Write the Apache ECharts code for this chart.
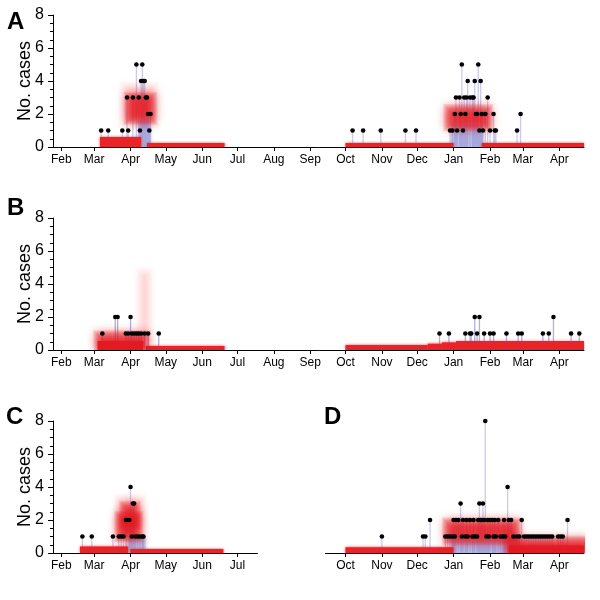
<!DOCTYPE html>
<html><head><meta charset="utf-8">
<script src="https://cdn.jsdelivr.net/npm/echarts@6/dist/echarts.min.js"></script>
<style>html,body{margin:0;padding:0;background:#fff}#c{width:600px;height:600px}</style>
</head><body><div id="c"></div>
<script>
// ---------- axis ranges and tick labels ----------
const monthNames = ['Jan','Feb','Mar','Apr','May','Jun','Jul','Aug','Sep','Oct','Nov','Dec'];
const rangeAB = ['2009-01-25','2010-04-22'];
const rangeC  = ['2009-01-25','2009-07-18'];
const rangeD  = ['2009-09-14','2010-04-22'];
const yMax = 8, yStep = 2;

// ---------- daily case counts ----------
const casesA = [
 ['2009-03-07',1],['2009-03-13',1],['2009-03-25',1],['2009-03-29',3],['2009-03-30',1],['2009-04-03',3],['2009-04-06',5],['2009-04-08',3],['2009-04-09',1],['2009-04-10',4],['2009-04-11',5],['2009-04-12',4],['2009-04-13',4],['2009-04-14',3],['2009-04-15',3],['2009-04-16',2],['2009-04-17',1],['2009-04-18',2],
 ['2009-10-07',1],['2009-10-16',1],['2009-10-31',1],['2009-11-21',1],['2009-11-30',1],
 ['2009-12-29',1],['2009-12-31',1],['2010-01-02',2],['2010-01-03',3],['2010-01-04',1],['2010-01-06',3],['2010-01-07',2],['2010-01-08',5],['2010-01-09',1],['2010-01-10',3],['2010-01-11',2],['2010-01-12',3],['2010-01-13',4],['2010-01-15',3],['2010-01-17',3],['2010-01-18',3],['2010-01-19',4],['2010-01-20',2],['2010-01-21',2],['2010-01-22',5],['2010-01-23',1],['2010-01-24',4],['2010-01-25',2],['2010-01-26',1],['2010-01-28',2],['2010-01-30',3],['2010-02-01',1],['2010-02-04',2],['2010-02-05',1],['2010-02-06',1],['2010-02-24',1],['2010-02-27',2]
];
const casesB = [
 ['2009-03-08',1],['2009-03-19',2],['2009-03-21',2],['2009-03-28',1],['2009-03-30',1],['2009-04-01',2],['2009-04-02',1],['2009-04-04',1],['2009-04-06',1],['2009-04-08',1],['2009-04-10',1],['2009-04-13',1],['2009-04-16',1],['2009-04-25',1],
 ['2009-12-20',1],['2009-12-28',1],['2010-01-11',1],['2010-01-15',1],['2010-01-16',1],['2010-01-19',2],['2010-01-21',1],['2010-01-23',2],['2010-01-27',1],['2010-02-01',1],['2010-02-04',1],['2010-02-15',1],['2010-02-25',1],['2010-02-28',1],['2010-03-18',1],['2010-03-23',1],['2010-03-27',2],['2010-04-11',1],['2010-04-18',1]
];
const casesC = [
 ['2009-02-19',1],['2009-02-27',1],['2009-03-17',1],['2009-03-22',1],['2009-03-24',1],['2009-03-26',1],['2009-03-28',2],['2009-03-29',2],['2009-03-31',2],['2009-04-01',4],['2009-04-02',1],['2009-04-03',3],['2009-04-04',3],['2009-04-05',1],['2009-04-07',1],['2009-04-09',1],['2009-04-11',1],['2009-04-12',1]
];
const casesD = [
 ['2009-11-01',1],['2009-12-06',1],['2009-12-08',1],['2009-12-12',2],
 ['2009-12-25',1],['2009-12-27',1],['2009-12-29',1],['2009-12-31',1],['2010-01-01',2],['2010-01-02',1],['2010-01-03',2],['2010-01-05',2],['2010-01-07',3],['2010-01-08',1],['2010-01-09',2],['2010-01-11',1],['2010-01-12',2],['2010-01-13',1],['2010-01-15',2],['2010-01-17',1],['2010-01-18',2],['2010-01-19',1],['2010-01-21',1],['2010-01-22',2],['2010-01-23',3],['2010-01-24',2],['2010-01-25',2],['2010-01-26',3],['2010-01-27',2],['2010-01-28',8],['2010-01-29',1],['2010-01-30',2],['2010-01-31',1],['2010-02-01',2],['2010-02-03',2],['2010-02-04',1],['2010-02-05',2],['2010-02-06',1],['2010-02-08',2],['2010-02-10',1],['2010-02-12',1],['2010-02-13',2],['2010-02-14',1],['2010-02-16',4],['2010-02-17',2],['2010-02-19',2],['2010-02-21',1],['2010-02-24',1],['2010-02-26',1],['2010-02-28',2],['2010-03-02',1],['2010-03-04',1],['2010-03-06',1],['2010-03-08',1],['2010-03-10',1],['2010-03-12',1],['2010-03-14',1],['2010-03-16',1],['2010-03-18',1],['2010-03-20',1],['2010-03-22',1],['2010-03-24',1],['2010-03-26',1],['2010-03-31',1],['2010-04-02',1],['2010-04-04',1],['2010-04-08',2]
];

// ---------- model estimates: [start, end, low, high] ----------
const bandsA  = [['2009-03-06','2009-04-10',0,0.6],['2009-04-15','2009-06-20',0,0.25],['2009-10-01','2010-01-01',0,0.25],['2010-01-25','2010-04-22',0,0.25]];
const blobsA  = [['2009-04-03','2009-04-16',1.9,2.8],['2009-12-31','2010-01-27',1.5,2.05]];
const shadesA = [['2009-04-08','2009-04-18',0,1.6],['2009-12-30','2010-01-26',0,1.4]];
const hazeA   = [['2009-03-29','2009-04-19',1.6,3.5]];

const bandsB  = [['2009-03-04','2009-04-12',0,0.55],['2009-04-14','2009-06-20',0,0.25],['2009-10-01','2009-12-10',0,0.3],['2009-12-10','2009-12-22',0,0.38],['2009-12-22','2010-01-03',0,0.46],['2010-01-03','2010-04-22',0,0.55]];
const blobsB  = [['2009-03-08','2009-04-10',0.4,0.65]];
const shadesB = [];
const hazeB   = [['2009-04-12','2009-04-14',0.9,4.5]];

const bandsC  = [['2009-02-17','2009-03-30',0,0.4],['2009-04-01','2009-06-19',0,0.25]];
const blobsC  = [['2009-03-26','2009-04-04',1.2,2.0],['2009-03-30','2009-04-02',2.0,2.6]];
const shadesC = [['2009-03-30','2009-04-14',0,1.0]];
const hazeC   = [['2009-03-24','2009-04-08',1.0,3.1]];

const bandsD  = [['2009-10-01','2010-01-01',0,0.35],['2010-02-17','2010-04-22',0,0.45]];
const blobsD  = [['2009-12-30','2010-02-20',1.0,1.6],['2010-02-20','2010-04-22',0.3,0.5]];
const shadesD = [['2009-12-30','2010-02-24',0,0.9]];
const hazeD   = [];

// ---------- build ----------
function dayList(a, b){
  const p = s => Date.UTC(+s.slice(0,4), +s.slice(5,7)-1, +s.slice(8,10));
  const out = []; let t = p(a); const e = p(b);
  while (t <= e) { out.push(new Date(t).toISOString().slice(0,10)); t += 86400000; }
  return out;
}
const PX_PER_DAY = 1.1748;
const FONT = 'Arial, "Liberation Sans", Helvetica, sans-serif';
const panels = [
  {letter:'A', range:rangeAB, left:53, top:15, cases:casesA, bands:bandsA, blobs:blobsA, shades:shadesA, haze:hazeA, showY:true, letterPos:[7,10]},
  {letter:'B', range:rangeAB, left:53, top:218, cases:casesB, bands:bandsB, blobs:blobsB, shades:shadesB, haze:hazeB, showY:true, letterPos:[7,196]},
  {letter:'C', range:rangeC,  left:53, top:421, cases:casesC, bands:bandsC, blobs:blobsC, shades:shadesC, haze:hazeC, showY:true, letterPos:[6,405]},
  {letter:'D', range:rangeD,  left:325.5, top:421, cases:casesD, bands:bandsD, blobs:blobsD, shades:shadesD, haze:hazeD, showY:false, letterPos:[324,405]}
];
const grids=[], xAxes=[], yAxes=[], series=[], titles=[];
const isMonthStart = (i, v) => v.slice(8,10) === '01';

function rectShape(api){
  const p1 = api.coord([api.value(0), api.value(3)]);
  const p2 = api.coord([api.value(1), api.value(2)]);
  return {x:p1[0], y:p1[1], width:p2[0]-p1[0], height:p2[1]-p1[1]};
}
function rectSeries(gi, rows, idx, style){
  return {
    type:'custom', xAxisIndex:gi, yAxisIndex:gi, silent:true, clip:true,
    data: rows.map(r => [idx[r[0]], idx[r[1]], r[2], r[3]]),
    encode:{x:[0,1], y:[2,3]},
    renderItem:(params, api) => ({type:'rect', shape:rectShape(api), style:style})
  };
}
// fuzzy block: many thin translucent layers growing outward from the core
function blobSeries(gi, rows, idx, rgb, layers, step, alpha, blur){
  return {
    type:'custom', xAxisIndex:gi, yAxisIndex:gi, silent:true, clip:true,
    data: rows.map(r => [idx[r[0]], idx[r[1]], r[2], r[3]]),
    encode:{x:[0,1], y:[2,3]},
    renderItem:(params, api) => {
      const s = rectShape(api), children = [];
      for (let k = layers-1; k >= 0; k--) {
        const g = k*step;
        children.push({type:'rect', shape:{x:s.x-g, y:s.y-g, width:s.width+2*g, height:s.height+2*g},
          style:{fill:'rgba('+rgb+','+alpha+')', shadowBlur:blur, shadowColor:'rgba('+rgb+',1)'}});
      }
      return {type:'group', children:children};
    }
  };
}

panels.forEach((p, gi) => {
  const cats = dayList(p.range[0], p.range[1]);
  const idx = {}; cats.forEach((d,i) => idx[d] = i);
  grids.push({left:p.left, top:p.top, width:(cats.length-1)*PX_PER_DAY, height:132, containLabel:false, outerBoundsMode:'none'});
  xAxes.push({
    type:'category', gridIndex:gi, data:cats, boundaryGap:false,
    axisLine:{show:true, onZero:false, lineStyle:{color:'#000', width:1}},
    axisTick:{show:true, interval:isMonthStart, length:4, lineStyle:{color:'#000', width:1}},
    axisLabel:{show:true, interval:isMonthStart, formatter:v => monthNames[+v.slice(5,7)-1], fontSize:12, color:'#000', margin:7, fontFamily:FONT},
    splitLine:{show:false}
  });
  yAxes.push({
    type:'value', gridIndex:gi, min:0, max:yMax, interval:yStep, show:p.showY,
    axisLine:{show:true, lineStyle:{color:'#000', width:1}},
    axisTick:{show:true, length:5, lineStyle:{color:'#000', width:1}},
    minorTick:{show:true, splitNumber:4, length:3, lineStyle:{color:'#000', width:1}},
    splitLine:{show:false}, minorSplitLine:{show:false},
    axisLabel:{fontSize:16, color:'#000', margin:9, fontFamily:FONT},
    name:'No. cases', nameLocation:'middle', nameGap:19, nameMoveOverlap:false,
    nameTextStyle:{fontSize:18, color:'#000', fontFamily:FONT}
  });
  titles.push({text:p.letter, left:p.letterPos[0], top:p.letterPos[1], padding:0,
    textStyle:{fontSize:24, fontWeight:'bold', color:'#000', fontFamily:FONT}});

  // lavender posterior shading
  series.push(rectSeries(gi, p.shades, idx, {fill:'rgba(185,185,228,0.75)', shadowBlur:4, shadowColor:'rgba(185,185,228,0.8)'}));
  // faint haze
  series.push(blobSeries(gi, p.haze, idx, '240,90,90', 6, 1.5, 0.025, 10));
  // stems
  series.push({
    type:'custom', xAxisIndex:gi, yAxisIndex:gi, silent:true,
    data:p.cases.map(c => [idx[c[0]], c[1]]), encode:{x:0, y:1},
    renderItem:(params, api) => {
      const a = api.coord([api.value(0), 0]), b = api.coord([api.value(0), api.value(1)]);
      return {type:'line', shape:{x1:a[0], y1:a[1], x2:b[0], y2:b[1]}, style:{stroke:gi===1?'rgba(110,110,200,0.55)':'rgba(140,140,210,0.45)', lineWidth:1.3}};
    }
  });
  // sharp estimate bands
  series.push(rectSeries(gi, p.bands, idx, {fill:'#e8242a', shadowBlur:3, shadowColor:'rgba(232,36,42,0.9)'}));
  // fuzzy estimate blobs
  series.push(blobSeries(gi, p.blobs, idx, '235,32,40', 8, 1.3, 0.13, 10));
  // dots
  series.push({
    type:'scatter', xAxisIndex:gi, yAxisIndex:gi, silent:true,
    data:p.cases.map(c => [idx[c[0]], c[1]]),
    symbol:'circle', symbolSize:4.6, itemStyle:{color:'#000', opacity:1}
  });
});

const chart = echarts.init(document.getElementById('c'), null, {renderer:'canvas'});
chart.setOption({
  animation:false, backgroundColor:'#fff',
  textStyle:{fontFamily:FONT},
  title:titles, grid:grids, xAxis:xAxes, yAxis:yAxes, series:series
});
</script></body></html>
